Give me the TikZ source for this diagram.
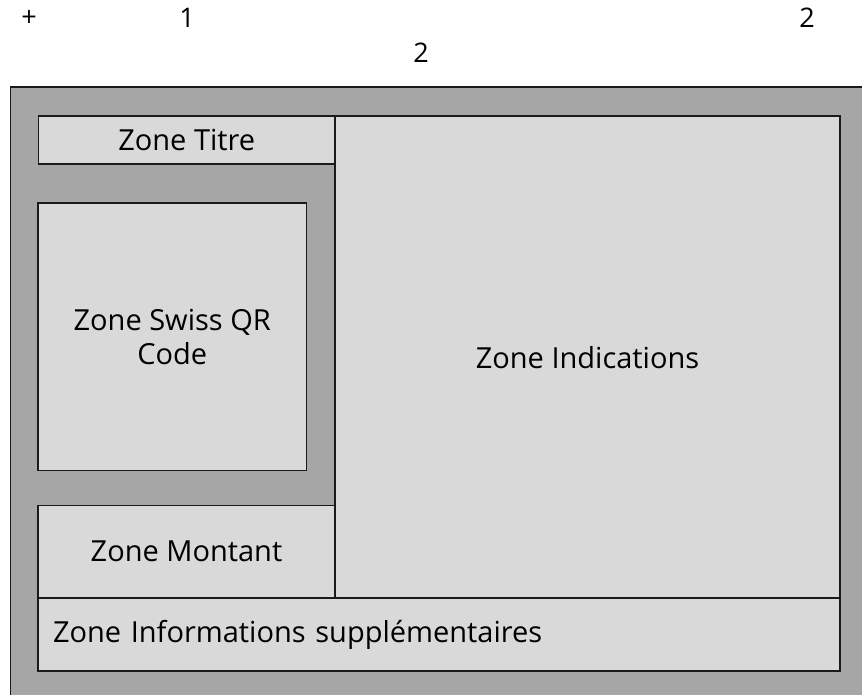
\documentclass[tikz,border=0pt]{standalone}
\usepackage{fontspec}
\setmainfont{Open Sans}
\definecolor{outergray}{HTML}{A6A6A6}
\definecolor{zonegray}{HTML}{D9D9D9}
\definecolor{edge}{HTML}{1A1A1A}
\begin{document}
\begin{tikzpicture}[x=1pt,y=-1pt,
  zone/.style={draw=edge,fill=zonegray,line width=1.6pt,inner sep=0pt,
    font=\fontsize{29}{34}\selectfont,align=center},
  marktext/.style={font=\fontsize{27}{32}\selectfont,inner sep=0pt}]
\useasboundingbox (0,0) rectangle (862,694);
\clip (0,0) rectangle (862,694);
\fill[white] (0,0) rectangle (862,694);
\node[draw=edge,fill=outergray,line width=1.6pt,inner sep=0pt,
  minimum width=880pt,minimum height=640pt,anchor=north west] (outer) at (9.5,86) {};
\node[marktext] (plus) at (29,18) {+};
\node[marktext] (one) at (187,18) {1};
\node[marktext] (twoa) at (807,18) {2};
\node[marktext] (twob) at (421,53) {2};
\node[zone,minimum width=505pt,minimum height=483pt] (indic) at (587.5,357.5) {Zone Indications};
\node[zone,minimum width=296.5pt,minimum height=48pt] (titre) at (186.75,140) {Zone Titre};
\node[zone,minimum width=268.5pt,minimum height=267.5pt] (qr) at (172.25,336.75) {Zone Swiss QR\\Code};
\node[zone,minimum width=297pt,minimum height=92.5pt] (montant) at (186.5,551.75) {Zone Montant};
\node[zone,minimum width=802pt,minimum height=73pt,text width=772pt,align=left,
  inner xsep=15pt] (info) at (439,634.5) {Zone Informations supplémentaires};
\end{tikzpicture}
\end{document}
